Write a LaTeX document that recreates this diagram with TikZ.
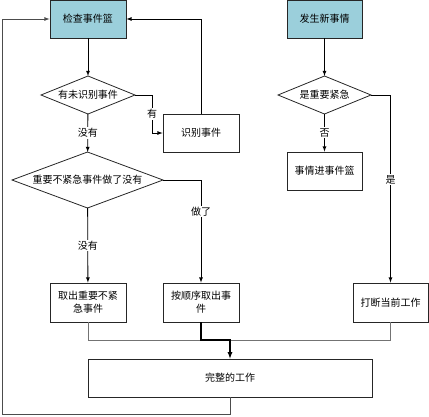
\documentclass[tikz,border=0pt]{standalone}
\usepackage{fontspec}
\setmainfont{Noto Sans CJK SC}
\usetikzlibrary{shapes.geometric}
\definecolor{basket}{RGB}{155,207,219}
\tikzset{
  task/.style={draw=black!85,line width=0.8pt,rectangle,minimum width=76pt,
    minimum height=38pt,inner sep=1pt,align=center,font=\fontsize{10}{13}\selectfont},
  source/.style={task,fill=basket},
  test/.style={draw=black!85,line width=0.8pt,diamond,aspect=2.5,inner sep=0pt,
    outer sep=0pt,font=\fontsize{10}{13}\selectfont},
  flow/.style={->,line width=0.8pt},
  merge/.style={line width=1pt,draw=black!55},
  tag/.style={fill=white,inner sep=1pt,font=\fontsize{10}{13}\selectfont}
}
\begin{document}
\begin{tikzpicture}[x=1pt,y=-1pt,>=latex]
        \useasboundingbox (0,0) rectangle (429,416);

        % the two starting boxes
        \node[source] (check) at (88,19) {检查事件篮};
        \node[source,minimum width=75pt] (news) at (324.5,19) {发生新事情};

        % the decisions
        \node[test,minimum width=94pt,minimum height=38pt] (d1) at (88,95) {有未识别事件};
        \node[test,aspect=2.7,minimum width=151pt,minimum height=56pt] (d2) at (87.5,180) {重要不紧急事件做了没有};
        \node[test,minimum width=93pt,minimum height=38pt] (d3) at (324.5,95) {是重要紧急};

        % the work boxes
        \node[task] (recog) at (201,133) {识别事件};
        \node[task,minimum width=75pt] (queue) at (324.5,171) {事情进事件篮};
        \node[task,minimum height=39pt] (take) at (88,302.5) {取出重要不紧\\急事件};
        \node[task,minimum height=39pt] (seq) at (201,302.5) {按顺序取出事\\件};
        \node[task,minimum width=75pt,minimum height=39pt] (intr) at (390.5,302.5) {打断当前工作};
        \node[task,minimum width=284pt] (done) at (230,378) {完整的工作};

        % left column
        \draw[flow] (check) -- (d1);
        \draw[flow] (d1) -- node[tag] {没有} (d2);
        \draw[flow] (d1.east) -- ++(17,0) |- node[tag,pos=0.25] {有} (recog);
        \draw[flow] (recog.north) |- (check.east);
        \draw[flow] (d2) -- node[tag] {没有} (take);
        \draw[flow] (d2.east) -| node[tag,pos=0.655] {做了} (seq.north);

        % right column
        \draw[flow] (news) -- (d3);
        \draw[flow] (d3) -- node[tag] {否} (queue);
        \draw[flow] (d3.east) -| node[tag,pos=0.726] {是} (intr.north);

        % join the three branches
        \coordinate (join) at (230,340);
        \foreach \n in {take,intr}
                \draw[merge] (\n.south) |- (join);
        \draw[flow,line width=1.2pt] (seq.south) |- (join) -- (done);

        % back to the basket
        \coordinate (loop) at (2,414);
        \draw[flow,draw=black!70] (done.south) |- (loop) |- (check.west);
\end{tikzpicture}
\end{document}
